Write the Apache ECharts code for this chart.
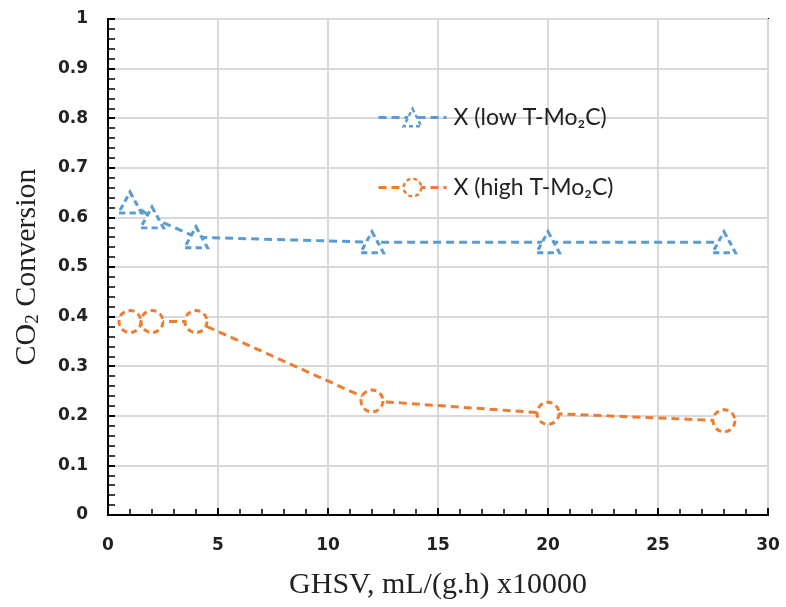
<!DOCTYPE html>
<html><head><meta charset="utf-8">
<script src="https://cdn.jsdelivr.net/npm/echarts@6/dist/echarts.min.js"></script>
<style>html,body{margin:0;padding:0;background:#fff}#c{width:786px;height:607px}</style>
</head><body><div id="c"></div>
<script>
var ghsv = [1, 2, 4, 12, 20, 28];
var lowT = [0.63, 0.60, 0.56, 0.55, 0.55, 0.55];
var highT = [0.39, 0.39, 0.39, 0.23, 0.205, 0.19];
var seriesNames = ['X (low T-Mo\u2082C)', 'X (high T-Mo\u2082C)'];

function pairs(xs, ys){ return xs.map(function(x,i){return [x, ys[i]];}); }

var chart = echarts.init(document.getElementById('c'), null, {renderer:'canvas'});
chart.setOption({
  animation:false,
  backgroundColor:'#fff',
  grid:{left:108, right:18, top:19, bottom:92, show:true, borderColor:'#000', borderWidth:2},
  legend:{
    left:372, top:101, orient:'vertical', itemGap:47, itemWidth:68, itemHeight:22,
    textStyle:{fontFamily:'Lato', fontSize:23, color:'#222', lineHeight:22, padding:[0,0,0,2]},
    itemStyle:{borderType:[4,3], borderWidth:2.5},
    lineStyle:{width:3},
    data:seriesNames
  },
  xAxis:{
    type:'value', min:0, max:30, interval:5,
    axisLine:{lineStyle:{color:'#000', width:2}},
    axisTick:{show:true, inside:true, length:7, lineStyle:{color:'#000', width:2}},
    minorTick:{show:true, splitNumber:5, length:6, lineStyle:{color:'#000', width:1.5}},
    splitLine:{show:true, lineStyle:{color:'#d9d9d9', width:2}},
    axisLabel:{fontFamily:'DejaVu Sans', fontWeight:'bold', fontSize:17, color:'#222', margin:22},
    name:'GHSV, mL/(g.h) x10000', nameLocation:'middle', nameGap:55,
    nameTextStyle:{fontFamily:'Liberation Serif', fontSize:30, color:'#222'}
  },
  yAxis:{
    type:'value', min:0, max:1, interval:0.1,
    axisLine:{show:true, lineStyle:{color:'#000', width:2}},
    axisTick:{show:true, inside:true, length:7, lineStyle:{color:'#000', width:2}},
    minorTick:{show:true, splitNumber:5, length:7, lineStyle:{color:'#000', width:1.5}},
    splitLine:{show:true, lineStyle:{color:'#d9d9d9', width:2}},
    axisLabel:{fontFamily:'DejaVu Sans', fontWeight:'bold', fontSize:17, color:'#222', margin:20,
      formatter:function(v){return String(Math.round(v*10)/10);}},
    name:'{a|CO}{b|2}{a| Conversion}', nameLocation:'middle', nameGap:65,
    nameTextStyle:{rich:{a:{fontFamily:'Liberation Serif', fontSize:30, color:'#222'},
                         b:{fontFamily:'Liberation Serif', fontSize:19, color:'#222', verticalAlign:'bottom', padding:[12,0,0,0]}}}
  },
  series:[
    {name:seriesNames[0], type:'line', data:pairs(ghsv, lowT),
     symbol:'triangle', symbolSize:[23,21],
     lineStyle:{color:'#5b9bd5', width:3, type:[8,5]},
     itemStyle:{color:'#fff', borderColor:'#5b9bd5', borderWidth:3, borderType:[6,4]}},
    {name:seriesNames[1], type:'line', data:pairs(ghsv, highT),
     symbol:'circle', symbolSize:22,
     lineStyle:{color:'#ed7d31', width:3, type:[8,5]},
     itemStyle:{color:'#fff', borderColor:'#ed7d31', borderWidth:3, borderType:[6,4]}}
  ]
});
</script></body></html>
